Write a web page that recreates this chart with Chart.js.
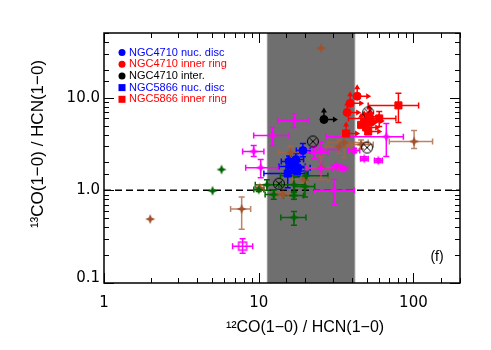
<!DOCTYPE html>
<html>
<head>
<meta charset="utf-8">
<script src="https://cdn.jsdelivr.net/npm/chart.js@4.4.0/dist/chart.umd.min.js"></script>
<style>
  html, body { margin: 0; background: #fff; }
</style>
</head>
<body>
<canvas id="chart" width="491" height="350"></canvas>
<script>
// rows: [x, y, xlo, xhi, ylo, yhi]
const n4710Disc = [
  [19.3, 2.69, 17.5, 21.5, 2.3, 3.2],
  [15.7, 2.05, 14.0, 17.5, 1.8, 2.35],
  [17.4, 2.15, 15.5, 19.5, 1.85, 2.5],
  [16.6, 1.81, 13.5, 20.0, 1.55, 2.1],
  [17.9, 1.76, 15.0, 21.5, 1.5, 2.05]
];
// lower limits (arrows)
const n4710Ring = [[43.3, 10.4], [39.0, 8.7], [37.3, 6.95]];
const n4710Inter = [[26.4, 5.83]];
const n5866Disc = [
  [15.4, 1.52, 10.8, 20.8, 1.07, 2.15],
  [17.7, 1.62, 15.5, 20.0, 1.4, 1.9]
];
const n5866Ring = [
  [80.0, 8.27, 51, 108, 5.41, 11.2],
  [60.1, 5.98, 38, 77, 4.9, 7.12],
  [48.1, 5.41], [49.5, 4.78], [51.0, 4.32], [51.8, 6.29],
  [36.7, 4.11], [45.9, 5.1], [53.0, 5.6]
];
const otimes = [[22.4, 3.37], [13.5, 1.18], [51.0, 6.95], [50.2, 2.9]];
const brownPts = [
  [25.3, 34.3], [1.99, 0.49],
  [7.76, 0.63, 6.58, 8.87, 0.38, 0.85],
  [101, 3.37, 69.8, 133, 2.83, 4.43],
  [35.6, 3.29, 28, 51, 2.25, 4.0],
  [33.1, 2.97, 27, 40, 2.5, 3.5],
  [45.9, 3.13, 38, 55, 2.8, 3.5],
  [25.3, 1.76, 20, 33, 1.3, 2.3],
  [16.1, 2.56, 13.5, 19, 2.2, 3.0],
  [10.15, 1.07, 9.6, 10.8, 1.0, 1.15],
  [14.3, 0.9, 13, 15.5, 0.85, 0.95],
  [19.6, 1.31, 16.5, 28, 1.2, 1.45]
];
const greenPts = [
  [5.75, 1.68], [5.03, 0.99],
  [10.0, 1.02, 9.3, 10.8, 0.97, 1.07],
  [11.3, 1.15, 9.5, 13.5, 1.0, 1.3],
  [12.5, 0.9, 11, 14.2, 0.8, 1.0],
  [16.9, 1.15, 14, 20, 0.95, 1.4],
  [16.9, 0.88, 14.5, 19.5, 0.8, 0.97],
  [19.9, 1.10, 17, 23, 0.85, 1.35],
  [20.2, 1.44, 13.8, 28, 1.3, 1.6],
  [16.9, 0.51, 13.9, 20.2, 0.42, 0.59]
];
const magentaPts = [
  [16.9, 5.69, 13.3, 20.8, 4.78, 6.7],
  [12.3, 3.91, 9.28, 15.7, 3.05, 4.78],
  [9.28, 2.63, 7.87, 10.8, 2.32, 3.05],
  [10.3, 1.76, 8.24, 13.3, 1.37, 2.15],
  [66.8, 3.8, 27.2, 86.1, 2.32, 5.28],
  [48.1, 2.2, 45.5, 51, 2.1, 2.3],
  [59.3, 2.1, 56, 63, 2.0, 2.2],
  [41.4, 2.69, 38, 45, 2.55, 2.85],
  [31.6, 1.81, 29.5, 34, 1.73, 1.9],
  [35.1, 1.72, 33, 37.5, 1.65, 1.8],
  [25.3, 2.76, 20, 33, 2.3, 3.3],
  [22.8, 2.56, 18.5, 28, 2.2, 3.0],
  [25.3, 1.72, 20.5, 30, 1.45, 2.05],
  [30.7, 1.0, 22.8, 41.4, 0.7, 1.31]
];
const magentaOpen = [[7.87, 0.25, 6.78, 9.14, 0.21, 0.30]];

const xTicks = [1, 10, 100];
const xTickLabels = ['1', '10', '100'];
const yTicks = [0.1, 1, 10];
const yTickLabels = ['0.1', '1.0', '10.0'];
const band = [11.3, 42];
const refLine = 1;
const legendLabels = ['NGC4710 nuc. disc', 'NGC4710 inner ring', 'NGC4710 inter.', 'NGC5866 nuc. disc', 'NGC5866 inner ring'];

const BLUE = '#0000ff', RED = '#ff0000', MAG = '#ff00ff', BROWN = '#a0522d', GREEN = '#006400';

function starImg(color, r) {
  const c = document.createElement('canvas');
  const s = 2 * r + 2; c.width = c.height = s;
  const g = c.getContext('2d'), m = s / 2, w = r * 0.3;
  g.fillStyle = color;
  g.beginPath();
  g.moveTo(m, m - r); g.lineTo(m + w, m - w); g.lineTo(m + r, m); g.lineTo(m + w, m + w);
  g.lineTo(m, m + r); g.lineTo(m - w, m + w); g.lineTo(m - r, m); g.lineTo(m - w, m - w);
  g.closePath(); g.fill();
  return c;
}
function otimesImg() {
  const c = document.createElement('canvas'); c.width = c.height = 14;
  const g = c.getContext('2d');
  g.strokeStyle = '#000'; g.lineWidth = 1;
  g.beginPath(); g.arc(7, 7, 5.5, 0, Math.PI * 2); g.stroke();
  g.beginPath(); g.moveTo(3.3, 3.3); g.lineTo(10.7, 10.7); g.moveTo(10.7, 3.3); g.lineTo(3.3, 10.7); g.stroke();
  return c;
}
function openSquareImg(color) {
  const c = document.createElement('canvas'); c.width = c.height = 12;
  const g = c.getContext('2d');
  g.strokeStyle = color; g.lineWidth = 1.5;
  g.strokeRect(2, 2, 8, 8);
  return c;
}

const pts = rows => rows.map(r => ({ x: r[0], y: r[1] }));

const datasets = [
  { label: 'NGC5866 inner ring', data: pts(n5866Ring), err: n5866Ring, errColor: RED, limits: n5866Ring.map(r => r.length === 2),
    pointStyle: 'rect', radius: 5, backgroundColor: RED, borderColor: RED },
  { label: 'NGC4710 inner ring', data: pts(n4710Ring), limits: n4710Ring.map(() => true), errColor: RED,
    pointStyle: 'circle', radius: 4, backgroundColor: RED, borderColor: RED },
  { label: 'NGC4710 inter.', data: pts(n4710Inter), limits: [true], errColor: '#000',
    pointStyle: 'circle', radius: 4, backgroundColor: '#000', borderColor: '#000' },
  { label: 'otimes', data: pts(otimes), pointStyle: otimesImg() },
  { label: 'NGC4710 nuc. disc', data: pts(n4710Disc), err: n4710Disc, errColor: BLUE,
    pointStyle: 'circle', radius: 4, backgroundColor: BLUE, borderColor: BLUE },
  { label: 'NGC5866 nuc. disc', data: pts(n5866Disc), err: n5866Disc, errColor: BLUE,
    pointStyle: 'rect', radius: 5, backgroundColor: BLUE, borderColor: BLUE },
  { label: 'magenta', data: pts(magentaPts), err: magentaPts, errColor: MAG, pointStyle: starImg(MAG, 5) },
  { label: 'magenta open', data: pts(magentaOpen), err: magentaOpen, errColor: MAG, pointStyle: openSquareImg(MAG) },
  { label: 'green', data: pts(greenPts), err: greenPts, errColor: GREEN, pointStyle: starImg(GREEN, 5) },
  { label: 'brown', data: pts(brownPts), err: brownPts, errColor: 'rgba(170,100,65,0.8)', pointStyle: starImg(BROWN, 5) }
];

const decor = {
  id: 'decor',
  beforeDatasetsDraw(chart) {
    const { ctx, chartArea: a, scales: { x, y } } = chart;
    ctx.save();
    // shaded band
    ctx.fillStyle = '#6f6f6f';
    const b0 = x.getPixelForValue(band[0]), b1 = x.getPixelForValue(band[1]);
    ctx.fillRect(b0, a.top, b1 - b0, a.bottom - a.top);
    ctx.strokeStyle = '#9a9a9a'; ctx.lineWidth = 1;
    ctx.beginPath(); ctx.moveTo(b0 + 0.5, a.top); ctx.lineTo(b0 + 0.5, a.bottom);
    ctx.moveTo(b1 - 0.5, a.top); ctx.lineTo(b1 - 0.5, a.bottom); ctx.stroke();
    // dashed reference line
    const yl = y.getPixelForValue(refLine);
    ctx.strokeStyle = '#000'; ctx.lineWidth = 1.5; ctx.setLineDash([7, 4]);
    ctx.beginPath(); ctx.moveTo(a.left, yl); ctx.lineTo(a.right, yl); ctx.stroke();
    ctx.setLineDash([]);
    // error bars and limit arrows
    chart.data.datasets.forEach(ds => {
      ctx.strokeStyle = ds.errColor || '#000';
      ctx.lineWidth = 1.5;
      (ds.err || []).forEach(r => {
        if (r.length < 6) return;
        const px = x.getPixelForValue(r[0]), py = y.getPixelForValue(r[1]);
        const xl = x.getPixelForValue(r[2]), xh = x.getPixelForValue(r[3]);
        const yl2 = y.getPixelForValue(r[4]), yh = y.getPixelForValue(r[5]);
        const c = 3;
        ctx.beginPath();
        ctx.moveTo(xl, py); ctx.lineTo(xh, py);
        ctx.moveTo(xl, py - c); ctx.lineTo(xl, py + c);
        ctx.moveTo(xh, py - c); ctx.lineTo(xh, py + c);
        ctx.moveTo(px, yl2); ctx.lineTo(px, yh);
        ctx.moveTo(px - c, yl2); ctx.lineTo(px + c, yl2);
        ctx.moveTo(px - c, yh); ctx.lineTo(px + c, yh);
        ctx.stroke();
      });
      (ds.limits || []).forEach((lim, i) => {
        if (!lim) return;
        const d = ds.data[i];
        const px = x.getPixelForValue(d.x), py = y.getPixelForValue(d.y);
        ctx.fillStyle = ds.errColor;
        ctx.beginPath();
        ctx.moveTo(px, py); ctx.lineTo(px + 11, py);
        ctx.moveTo(px, py); ctx.lineTo(px, py - 9);
        ctx.stroke();
        ctx.beginPath();
        ctx.moveTo(px + 14, py); ctx.lineTo(px + 9, py - 3); ctx.lineTo(px + 9, py + 3); ctx.closePath();
        ctx.moveTo(px, py - 12); ctx.lineTo(px - 3, py - 7); ctx.lineTo(px + 3, py - 7); ctx.closePath();
        ctx.fill();
      });
    });
    ctx.restore();
  },
  afterDatasetsDraw(chart) {
    const { ctx, chartArea: a, scales: { x, y } } = chart;
    ctx.save();
    ctx.strokeStyle = '#000'; ctx.lineWidth = 1.5;
    ctx.strokeRect(a.left, a.top, a.right - a.left, a.bottom - a.top);
    // inward ticks on all sides
    ctx.lineWidth = 1;
    const isMajor = v => Math.abs(Math.log10(v) - Math.round(Math.log10(v))) < 1e-6;
    ctx.beginPath();
    x.ticks.forEach(t => {
      const px = Math.round(x.getPixelForValue(t.value)) + 0.5;
      const len = isMajor(t.value) ? 10 : 5;
      ctx.moveTo(px, a.bottom); ctx.lineTo(px, a.bottom - len);
      ctx.moveTo(px, a.top); ctx.lineTo(px, a.top + len);
    });
    y.ticks.forEach(t => {
      const py = Math.round(y.getPixelForValue(t.value)) + 0.5;
      const len = isMajor(t.value) ? 10 : 5;
      ctx.moveTo(a.left, py); ctx.lineTo(a.left + len, py);
      ctx.moveTo(a.right, py); ctx.lineTo(a.right - len, py);
    });
    ctx.stroke();
    // tick labels
    ctx.fillStyle = '#000';
    ctx.font = '15px "DejaVu Sans"';
    ctx.textAlign = 'center'; ctx.textBaseline = 'middle';
    xTicks.forEach((v, i) => ctx.fillText(xTickLabels[i], x.getPixelForValue(v), a.bottom + 20));
    ctx.textAlign = 'right';
    yTicks.forEach((v, i) => ctx.fillText(yTickLabels[i], a.left - 4, Math.min(y.getPixelForValue(v), a.bottom - 5)));
    // axis titles
    ctx.font = '16px "Liberation Sans"';
    ctx.textAlign = 'center';
    ctx.fillText('¹²CO(1−0) / HCN(1−0)', 305, 328);
    ctx.save();
    ctx.translate(38, 144); ctx.rotate(-Math.PI / 2);
    ctx.font = '17px "Liberation Sans"';
    ctx.fillText('¹³CO(1−0) / HCN(1−0)', 0, 0);
    ctx.restore();
    // panel tag
    ctx.font = '14px "Liberation Sans"';
    ctx.fillText('(f)', 437, 257);
    // legend
    const colors = [BLUE, RED, '#000', BLUE, RED];
    ctx.font = '11px "Liberation Sans"';
    ctx.textAlign = 'left';
    legendLabels.forEach((lab, i) => {
      const ly = 52.5 + 11.7 * i;
      ctx.fillStyle = colors[i];
      if (i < 3) { ctx.beginPath(); ctx.arc(122, ly, 3.5, 0, Math.PI * 2); ctx.fill(); }
      else ctx.fillRect(118.5, ly - 3.5, 7, 7);
      ctx.fillText(lab, 129, ly);
    });
    ctx.restore();
  }
};

new Chart(document.getElementById('chart'), {
  type: 'scatter',
  data: { datasets: datasets },
  options: {
    responsive: false,
    animation: false,
    devicePixelRatio: 1,
    layout: { padding: { top: 33, right: 31, left: 0, bottom: 0 } },
    scales: {
      x: {
        type: 'logarithmic', min: 1, max: 200,
        grid: { display: false }, border: { display: false },
        ticks: { display: false },
        afterFit(s) { s.height = 67; }
      },
      y: {
        type: 'logarithmic', min: 0.1, max: 50,
        grid: { display: false }, border: { display: false },
        ticks: { display: false },
        afterFit(s) { s.width = 104; }
      }
    },
    plugins: { legend: { display: false }, tooltip: { enabled: false } }
  },
  plugins: [decor]
});
</script>
</body>
</html>
